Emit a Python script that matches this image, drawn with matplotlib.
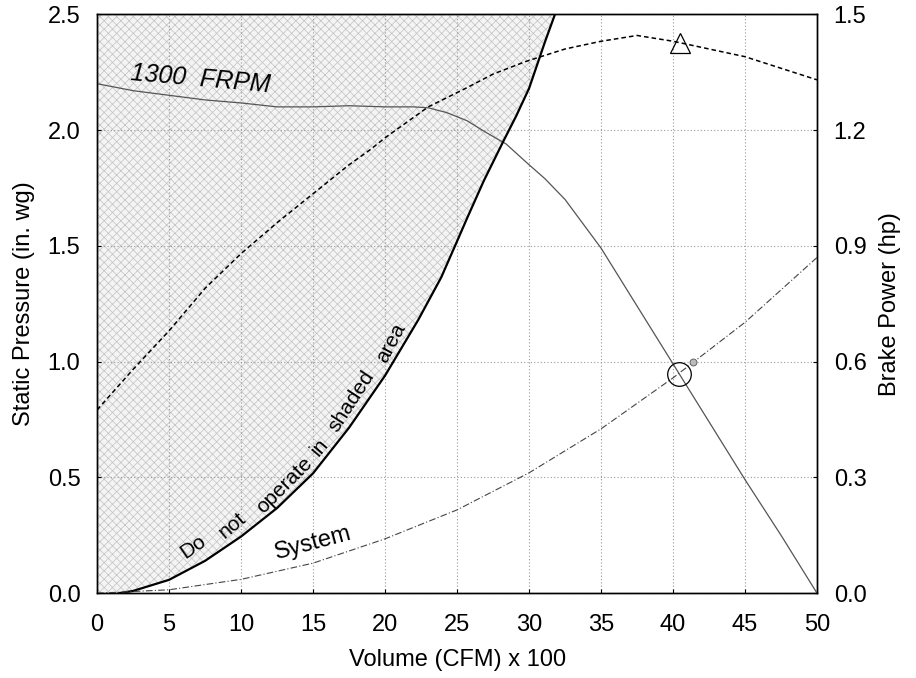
import matplotlib
matplotlib.use("Agg")
import matplotlib.pyplot as plt
from matplotlib.ticker import FormatStrFormatter
from matplotlib.transforms import offset_copy
import numpy as np

plt.rcParams['font.family'] = ['Liberation Sans', 'DejaVu Sans']
plt.rcParams['hatch.linewidth'] = 0.5

# fan curve, 1300 FRPM (static pressure, in. wg)
fan_x = [0, 2.5, 5, 7.5, 10, 12.5, 15, 17.5, 20, 22, 23, 24.3, 25.7, 27, 28.4,
         30, 31.1, 32.5, 35, 37.5, 40, 42.5, 45, 47.5, 50]
fan_y = [2.20, 2.17, 2.15, 2.13, 2.117, 2.10, 2.10, 2.105, 2.10, 2.10, 2.096,
         2.075, 2.04, 1.99, 1.94, 1.85, 1.79, 1.70, 1.49, 1.24, 0.99, 0.74, 0.49,
         0.25, 0.0]

# brake power (hp)
bhp_x = [0, 2.5, 5, 7.5, 10, 12.5, 15, 17.5, 19, 20, 23, 25.7, 27.5, 29.8, 32.5,
         35, 37.5, 40, 42.5, 45, 47.5, 50]
bhp_y = [0.475, 0.58, 0.68, 0.79, 0.88, 0.96, 1.035, 1.11, 1.15, 1.18, 1.26, 1.31,
         1.345, 1.378, 1.41, 1.43, 1.445, 1.43, 1.41, 1.39, 1.36, 1.33]

# system curve
sys_x = [0, 5, 10, 15, 20, 25, 30, 35, 40, 45, 50]
sys_y = [0.0, 0.015, 0.06, 0.13, 0.235, 0.36, 0.52, 0.71, 0.93, 1.17, 1.45]

# limit of the "do not operate" zone
lim_x = [0, 1.5, 2.5, 5, 7.5, 10, 12.5, 15, 17.5, 20, 22.3, 23.9, 25, 25.7, 26.85,
         28.2, 29.1, 30, 31.1, 31.8]
lim_y = [0.0, 0.0, 0.01, 0.058, 0.14, 0.245, 0.368, 0.518, 0.715, 0.94, 1.18,
         1.364, 1.52, 1.62, 1.78, 1.95, 2.06, 2.18, 2.38, 2.5]

op_point = (40.4, 0.945)
max_bhp = (40.45, 1.425)

# words of the curved note: text, x, y, rotation
note_words = ['Do', 'not', 'operate', 'in', 'shaded', 'area']
note_x = [6.8, 9.6, 13.2, 15.7, 17.9, 20.7]
note_y = [0.186, 0.28, 0.453, 0.617, 0.82, 1.07]
note_rot = [35, 40, 45, 50, 57, 62]

fig = plt.figure(figsize=(9.16, 6.78), dpi=100)
ax = fig.add_axes([0.106, 0.125, 0.786, 0.854])
ax2 = ax.twinx()

ax.fill_between(lim_x, lim_y, 2.5, facecolor='#f4f4f4', edgecolor='#c2c2c2',
                hatch='xxxx', linewidth=0, zorder=0)

ax.plot(fan_x, fan_y, color='#555555', lw=0.9, zorder=3)
ax.plot(lim_x[1:], lim_y[1:], color='black', lw=1.6, zorder=3)
ax.plot(sys_x, sys_y, color='#444444', lw=0.8, ls=(0, (6, 2, 1, 2)), zorder=3)
ax2.plot(bhp_x, bhp_y, color='black', lw=1.1, ls=(0, (3, 2)))

ax.plot(*op_point, marker='o', ms=17, mfc='none', mec='black', mew=0.9, zorder=4)
ax.plot(op_point[0] + 1.0, op_point[1] + 0.053, marker='o', ms=5, mfc='#bbbbbb',
        mec='#555555', mew=0.6, zorder=4)
ax2.plot(*max_bhp, marker='^', ms=14, mfc='none', mec='black', mew=0.9)

ax.text(7.15, 2.22, '1300  FRPM', fontsize=18, style='italic', rotation=-5,
        ha='center', va='center')
# push each word a little off the curve, toward the shaded side
for w, wx, wy, r in zip(note_words, note_x, note_y, note_rot):
    a = np.radians(r)
    tr = offset_copy(ax.transData, fig=fig, x=-3 * np.sin(a), y=3 * np.cos(a),
                     units='points')
    ax.text(wx, wy, w, fontsize=15, rotation=r, ha='center', va='center',
            rotation_mode='anchor', transform=tr)
ax.text(15.0, 0.216, 'System', fontsize=17, rotation=15, ha='center', va='center',
        rotation_mode='anchor')

ax.set_xlim(0, 50)
ax.set_ylim(0, 2.5)
ax2.set_ylim(0, 1.5)
ax.set_xticks(np.arange(0, 51, 5))
ax.set_yticks(np.arange(0, 2.51, 0.5))
ax2.set_yticks(np.arange(0, 1.51, 0.3))
ax.yaxis.set_major_formatter(FormatStrFormatter('%.1f'))
ax2.yaxis.set_major_formatter(FormatStrFormatter('%.1f'))

ax.grid(True, color='#9a9a9a', lw=0.8, ls=(0, (1, 2)))
for a in (ax, ax2):
    a.tick_params(labelsize=17, direction='in', length=3, pad=12)
    for s in a.spines.values():
        s.set_linewidth(1.0)
ax.tick_params(axis='x', pad=15)

ax.set_xlabel('Volume (CFM) x 100', fontsize=17, labelpad=9)
ax.set_ylabel('Static Pressure (in. wg)', fontsize=17, labelpad=9)
ax2.set_ylabel('Brake Power (hp)', fontsize=17, labelpad=9)

fig.savefig('out.png', dpi=100)
